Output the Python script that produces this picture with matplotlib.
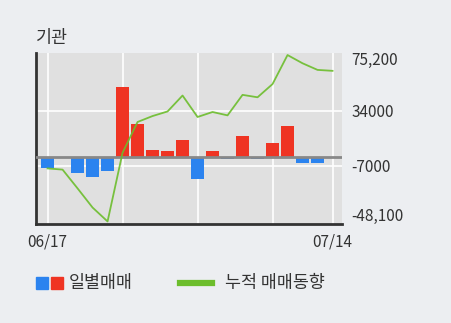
import matplotlib
matplotlib.use('Agg')
import matplotlib.pyplot as plt
from matplotlib.patches import Rectangle
from matplotlib.lines import Line2D
from matplotlib.transforms import ScaledTranslation

plt.rcParams['font.family'] = ['Noto Sans CJK KR', 'DejaVu Sans']

# 거래일 (06/17 ~ 07/14)
dates = ['06/17', '06/18', '06/19', '06/22', '06/23', '06/24', '06/25', '06/26',
         '06/29', '06/30', '07/01', '07/02', '07/03', '07/06', '07/07', '07/08',
         '07/09', '07/10', '07/13', '07/14']
# 일별매매
daily = [-8800, -300, -12400, -15400, -10500, 51200, 23900, 4900, 4200, 12200,
         -16300, 4200, -2200, 15400, -1500, 10300, 22700, -5100, -5100, -400]
# 누적 매매동향
cumul = [-8800, -9700, -23600, -37800, -48100, 2800, 25600, 30000, 33400, 45200,
         29300, 33000, 30500, 45700, 43900, 53700, 75200, 69100, 64200, 63500]
yticks = [75200, 34000, -7000, -48100]
ytick_labels = ['75,200', '34000', '-7000', '-48,100']
xtick_idx = [0, 19]

BG = '#eceef1'
PLOT_BG = '#e0e0e0'
RED = '#ef3423'
BLUE = '#2b83ef'
GREEN = '#6cbd2c'
TXT = '#333333'

fig = plt.figure(figsize=(4.51, 3.23), dpi=100, facecolor=BG)
ax = fig.add_axes([0.0792, 0.3065, 0.6784, 0.5285])
ax.set_facecolor(PLOT_BG)

x = list(range(len(dates)))
colors = [RED if v > 0 else BLUE for v in daily]

# 그리드
for gx in [0, 5, 10, 15, 19]:
    ax.axvline(gx, color='white', lw=1.2, zorder=1)
for gy in [34000, -7000]:
    ax.axhline(gy, color='white', lw=1.2, zorder=1)

ax.bar(x, daily, width=0.85, color=colors, zorder=2)
ax.axhline(0, color='#888888', lw=2.0, zorder=3)
ax.plot(x, cumul, color=GREEN, lw=1.3, alpha=0.9, zorder=4)

ax.set_xlim(-0.79, 19.61)
ax.set_ylim(-50000, 76500)

ax.yaxis.tick_right()
ax.set_yticks(yticks)
ax.set_yticklabels(ytick_labels)
ax.set_xticks(xtick_idx)
ax.set_xticklabels([dates[i] for i in xtick_idx])
ax.tick_params(length=0, labelsize=11, colors=TXT)
ax.tick_params(axis='y', pad=7)
ax.tick_params(axis='x', pad=7)

# 위/아래 끝 라벨은 안쪽으로 조금 이동
shifts = [-3, 0, 0, 7]
for lab, dy in zip(ax.get_yticklabels(), shifts):
    lab.set_transform(lab.get_transform() + ScaledTranslation(0, dy / 100, fig.dpi_scale_trans))

for s in ['top', 'right']:
    ax.spines[s].set_visible(False)
ax.spines['left'].set_color('#333333')
ax.spines['left'].set_linewidth(2)
ax.spines['bottom'].set_color('#333333')
ax.spines['bottom'].set_linewidth(2)

W, H = 451.0, 323.0
fig.text(36 / W, 1 - 38 / H, '기관', fontsize=12.5, color=TXT, va='center', ha='left')

# 범례
fig.patches.append(Rectangle((36 / W, 1 - 289 / H), 12 / W, 12 / H,
                             transform=fig.transFigure, color=BLUE))
fig.patches.append(Rectangle((51 / W, 1 - 289 / H), 12 / W, 12 / H,
                             transform=fig.transFigure, color=RED))
fig.text(69 / W, 1 - 283 / H, '일별매매', fontsize=12.5, color=TXT, va='center')
fig.lines.append(Line2D([180 / W, 212 / W], [1 - 283 / H, 1 - 283 / H],
                        transform=fig.transFigure, color=GREEN, lw=4.5))
fig.text(225 / W, 1 - 283 / H, '누적 매매동향', fontsize=12.5, color=TXT, va='center')

fig.savefig('out.png', dpi=100, facecolor=BG)
